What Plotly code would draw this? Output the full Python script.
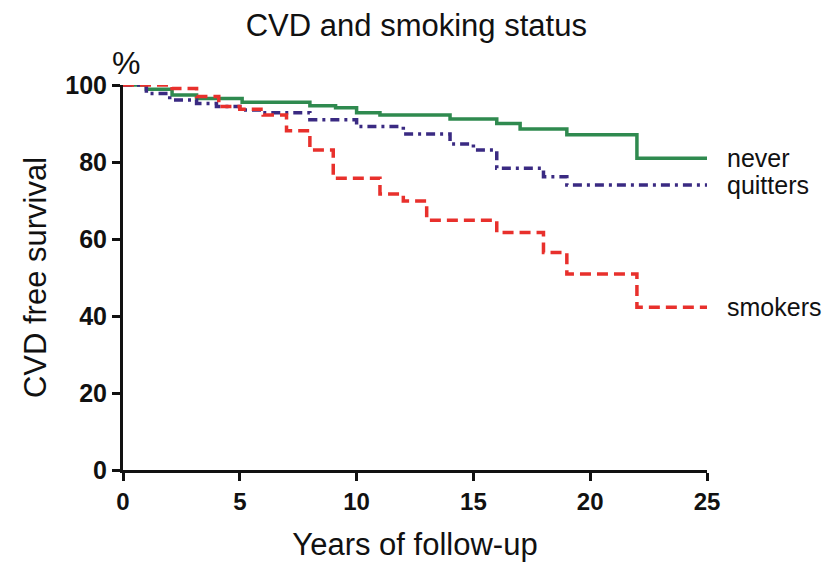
import plotly.graph_objects as go

# Data (Kaplan-Meier step curves)
never_t = [0, 1, 2.1, 3.15, 5.1, 8, 9.1, 10, 11, 14, 16, 17, 19, 22, 25]
never_s = [100, 98.9, 97.4, 96.5, 95.5, 94.6, 94.1, 92.8, 92.2, 91.2, 90.0, 88.6, 87.1, 81.0, 81.0]

quit_t = [0, 1, 2, 3.15, 4, 5, 6, 8, 10, 12, 14, 15, 16, 18, 19, 25]
quit_s = [100, 97.8, 96.1, 95.2, 94.4, 93.5, 92.8, 91.0, 89.2, 87.3, 84.7, 83.1, 78.4, 76.2, 74.0, 74.0]

smoke_t = [0, 2.1, 3.15, 4.1, 5, 6, 7, 8, 9, 11, 12, 13, 16, 18, 19, 22, 25]
smoke_s = [100, 99.1, 97.0, 94.4, 93.7, 92.2, 88.1, 83.1, 75.8, 71.7, 69.9, 64.9, 61.7, 56.5, 50.9, 42.3, 42.3]

x_ticks = [0, 5, 10, 15, 20, 25]
y_ticks = [0, 20, 40, 60, 80, 100]

FONT = "Liberation Sans, Arial, sans-serif"

fig = go.Figure()
fig.add_trace(go.Scatter(x=never_t, y=never_s, mode="lines", line_shape="hv",
                         line=dict(color="#2f8a4f", width=3.5), cliponaxis=False, name="never"))
fig.add_trace(go.Scatter(x=quit_t, y=quit_s, mode="lines", line_shape="hv",
                         line=dict(color="#3a2a82", width=3.5, dash="9px,5px,3px,5px"),
                         cliponaxis=False, name="quitters"))
fig.add_trace(go.Scatter(x=smoke_t, y=smoke_s, mode="lines", line_shape="hv",
                         line=dict(color="#e8302c", width=3.5, dash="11px,6px"),
                         cliponaxis=False, name="smokers"))

labels = [("never", never_s[-1]), ("quitters", quit_s[-1]), ("smokers", smoke_s[-1])]
for txt, yv in labels:
    fig.add_annotation(x=25, y=yv, xref="x", yref="y", text=txt, showarrow=False,
                       xanchor="left", xshift=19, borderpad=0,
                       font=dict(family=FONT, size=25, color="#111"))

fig.add_annotation(x=0, y=100, xref="x", yref="y", text="%", showarrow=False,
                   xanchor="center", yanchor="middle", yshift=22, xshift=3,
                   font=dict(family=FONT, size=32, color="#111"))

fig.update_layout(
    width=835, height=562,
    margin=dict(l=115, r=136, t=77, b=100),
    paper_bgcolor="white", plot_bgcolor="white",
    showlegend=False,
    title=dict(text="CVD and smoking status", x=0.489, xanchor="center", y=0.97, yanchor="middle",
               font=dict(family=FONT, size=31, color="#111")),
    font=dict(family=FONT, color="#111"),
)
fig.update_xaxes(range=[0, 25], tickvals=x_ticks, showgrid=False, zeroline=False,
                 showline=True, linecolor="#111", linewidth=3,
                 ticks="outside", ticklen=8, tickwidth=3, tickcolor="#111",
                 tickfont=dict(family=FONT, size=24, color="#111", weight="bold"),
                 title=dict(text="Years of follow-up", font=dict(family=FONT, size=31, color="#111"), standoff=20))
fig.update_yaxes(range=[0, 100], tickvals=y_ticks, showgrid=False, zeroline=False,
                 showline=True, linecolor="#111", linewidth=3,
                 ticks="outside", ticklen=8, tickwidth=3, tickcolor="#111",
                 tickfont=dict(family=FONT, size=25, color="#111", weight="bold"),
                 title=dict(text="CVD free survival", font=dict(family=FONT, size=31, color="#111"), standoff=10))

fig.write_html("out.html")
